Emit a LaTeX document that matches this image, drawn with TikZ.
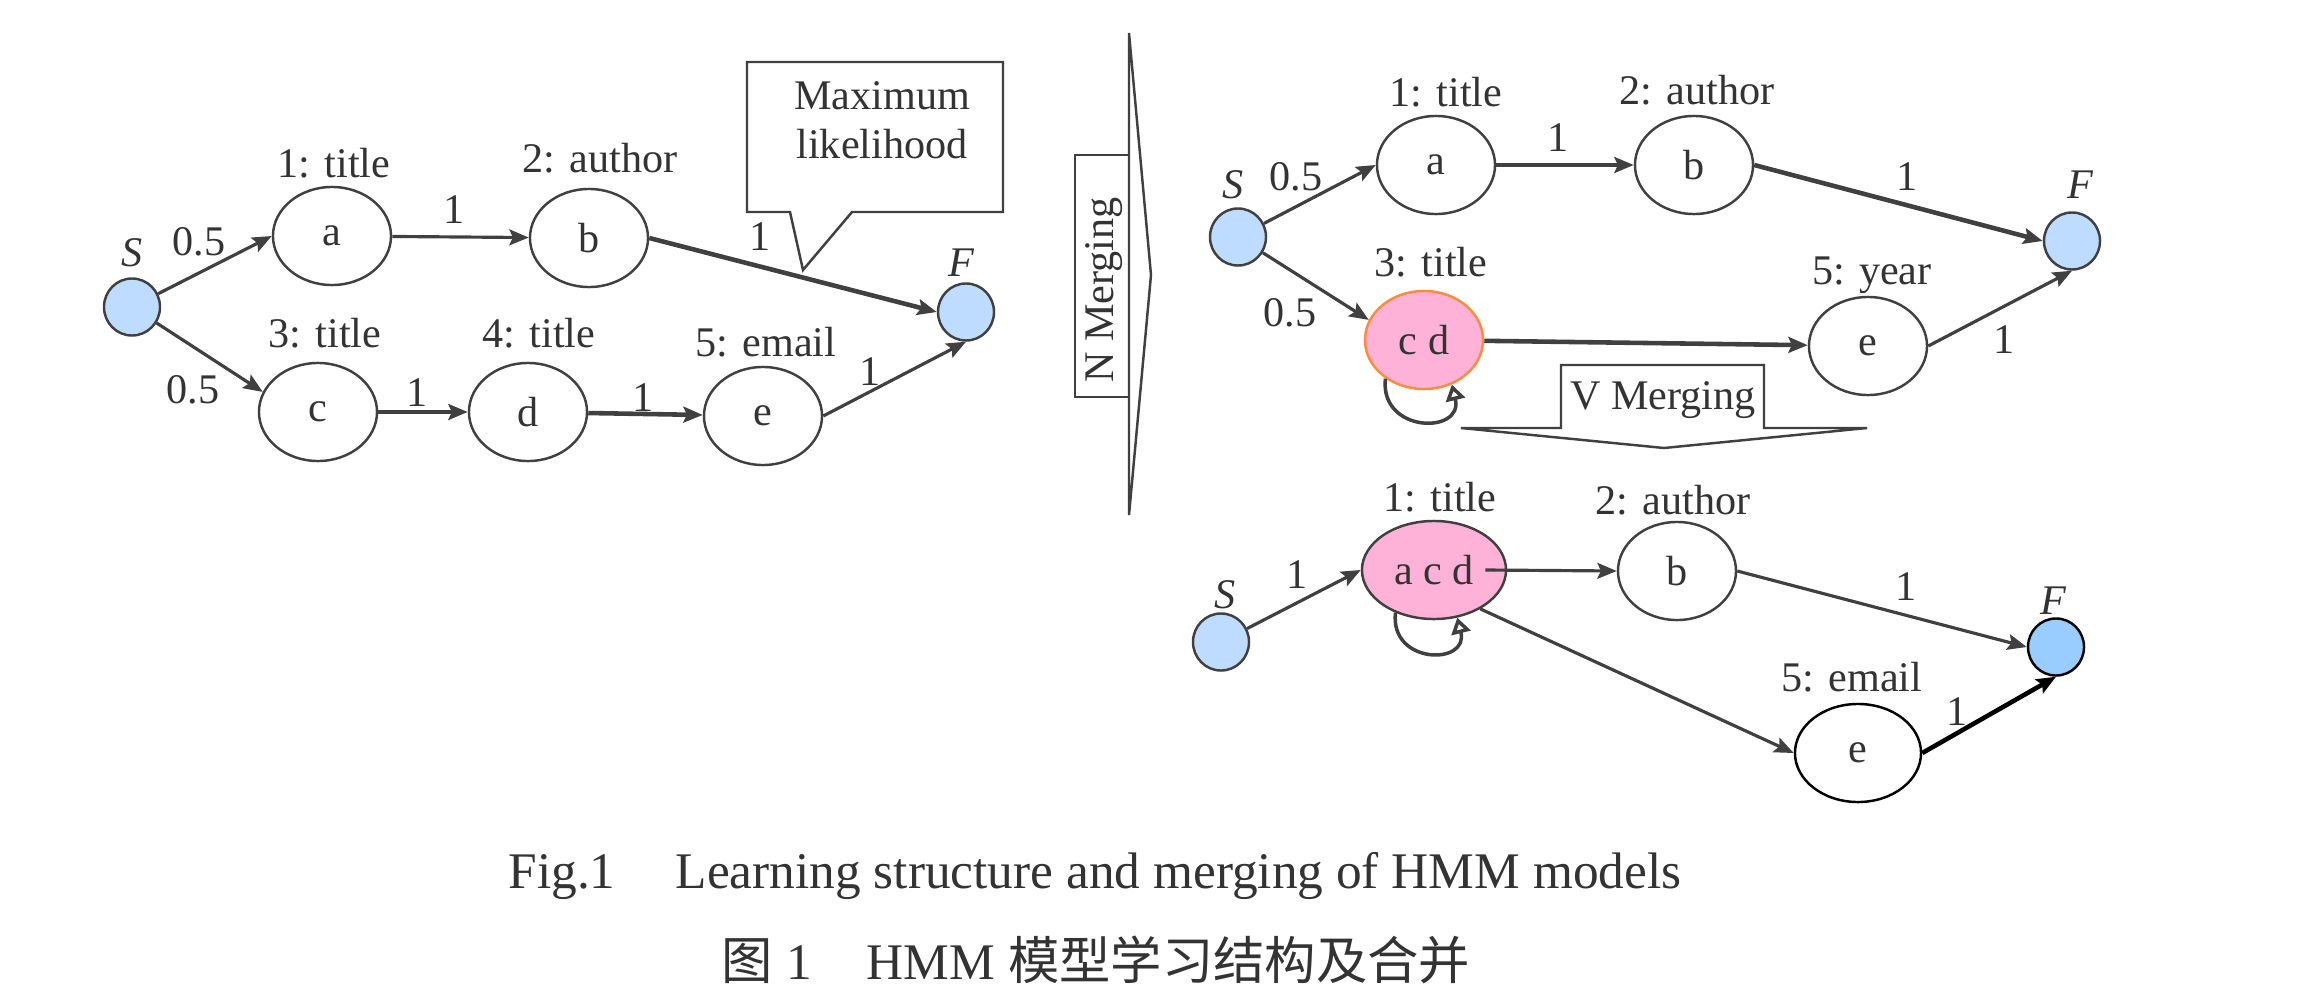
\documentclass[tikz,border=0pt]{standalone}
\usepackage{fontspec}
\setmainfont{Liberation Serif}
\newfontfamily\cjk{Noto Sans CJK SC}
\usetikzlibrary{arrows.meta, shapes.geometric, positioning}
\definecolor{linegray}{RGB}{64,64,64}
\definecolor{startblue}{RGB}{190,220,255}
\definecolor{endblue}{RGB}{153,204,255}
\definecolor{mergepink}{RGB}{255,178,216}
\definecolor{mergeorange}{RGB}{255,140,60}

\begin{document}
\begin{tikzpicture}[x=0.01cm, y=-0.01cm, font=\fontsize{12}{14}\selectfont, text=black!80,
    state/.style={ellipse, draw=linegray, line width=0.7pt, minimum width=1.18cm, minimum height=0.98cm, inner sep=0pt},
    term/.style={ellipse, draw=linegray, line width=0.7pt, fill=startblue, minimum width=0.56cm, minimum height=0.57cm, inner sep=0pt},
    trans/.style={draw=linegray, line width=0.9pt, -{Stealth[length=5.5pt,width=4.5pt,inset=1pt]}},
    heavy/.style={line width=1.3pt},
    selfloop/.style={draw=linegray, line width=1pt, -{Triangle[open,length=4.5pt,width=5.5pt,fill=white]}},
    shapeline/.style={draw=linegray, line width=0.7pt}]
  \useasboundingbox (0,0) rectangle (2305,1000);

  % left: learned model
  \node[term] (S1) at (132,307) {};
  \node[term] (F1) at (966,312) {};
  \node[state] (a1) at (332,236) {a};
  \node[state] (b1) at (589,238) {b};
  \node[state] (c1) at (318,412) {c};
  \node[state] (d1) at (528,412) {d};
  \node[state] (e1) at (763,416) {e};
  \node (S1t) at (132,253) {\textit{S}};
  \node (F1t) at (962,263) {\textit{F}};
  \node (a1t) at (334,163) {1: title};
  \node (b1t) at (600,158) {2: author};
  \node (c1t) at (325,333) {3: title};
  \node (d1t) at (539,333) {4: title};
  \node (e1t) at (766,342) {5: email};
  \node (p1) at (199,242) {0.5};
  \node (p2) at (193,390) {0.5};
  \node (p3) at (454,210) {1};
  \node (p4) at (760,237) {1};
  \node (p5) at (417,393) {1};
  \node (p6) at (643,398) {1};
  \node (p7) at (870,372) {1};
  \draw[trans] (S1) -- (a1.west);
  \draw[trans] (S1) -- (c1.160);
  \draw[trans] (a1) -- (b1);
  \draw[trans, heavy] (b1.east) -- (F1.west);
  \draw[trans, heavy] (c1) -- (d1);
  \draw[trans, heavy] (d1) -- (e1);
  \draw[trans] (e1.east) -- (F1.south);

  % callout
  \draw[shapeline, fill=white] (747,62) -- (1003,62) -- (1003,212) -- (852,212) -- (803,270) -- (790,212) -- (747,212) -- cycle;
  \node[align=center] (mlh) at (882,120) {Maximum\\likelihood};

  % N merging arrow
  \draw[shapeline] (1075,155) rectangle (1129,397);
  \draw[shapeline] (1129,33) -- (1151,275) -- (1129,515) -- cycle;
  \node[rotate=90] (nm) at (1104,290) {N Merging};

  % right top: after N merging
  \node[term] (S2) at (1238,237) {};
  \node[term] (F2) at (2072,241) {};
  \node[state] (a2) at (1436,165) {a};
  \node[state] (b2) at (1694,165) {b};
  \node[state, fill=mergepink, draw=mergeorange] (cd2) at (1424,340) {c d};
  \node[state] (e2) at (1868,346) {e};
  \node (S2t) at (1233,185) {\textit{S}};
  \node (F2t) at (2081,185) {\textit{F}};
  \node (a2t) at (1446,92) {1: title};
  \node (b2t) at (1697,90) {2: author};
  \node (cd2t) at (1431,262) {3: title};
  \node (e2t) at (1872,275) {5: year};
  \node (q1) at (1296,177) {0.5};
  \node (q2) at (1290,313) {0.5};
  \node (q3) at (1558,138) {1};
  \node (q4) at (1907,177) {1};
  \node (q5) at (2004,340) {1};
  \draw[trans] (S2) -- (a2.west);
  \draw[trans] (S2) -- (cd2.160);
  \draw[trans, heavy] (a2) -- (b2);
  \draw[trans, heavy] (b2.east) -- (F2.west);
  \draw[trans, heavy] (cd2) -- (e2);
  \draw[trans] (e2.east) -- (F2.south);
  \draw[selfloop] (cd2.-135) .. controls +(-6,55) and +(12,50) .. (cd2.-58);

  % V merging arrow
  \draw[shapeline] (1561,365) -- (1764,365) -- (1764,428) -- (1867,428) -- (1664,448) -- (1461,428) -- (1561,428) -- cycle;
  \node (vm) at (1663,400) {V Merging};

  % right bottom: after V merging
  \node[term] (S3) at (1221,642) {};
  \node[term, fill=endblue, draw=black] (F3) at (2056,647) {};
  \node[state, fill=mergepink, minimum width=1.44cm] (acd3) at (1434,570) {a c d};
  \node[state] (b3) at (1677,571) {b};
  \node[state, draw=black, minimum width=1.26cm] (e3) at (1858,753) {e};
  \node (S3t) at (1225,595) {\textit{S}};
  \node (F3t) at (2054,601) {\textit{F}};
  \node (acd3t) at (1440,497) {1: title};
  \node (b3t) at (1673,500) {2: author};
  \node (e3t) at (1852,677) {5: email};
  \node (r1) at (1297,575) {1};
  \node (r2) at (1906,587) {1};
  \node (r3) at (1957,712) {1};
  \draw[trans] (S3) -- (acd3.west);
  \draw[trans] ([xshift=-0.22cm]acd3.east) -- (b3.west);
  \draw[trans] (acd3.-40) -- (e3.west);
  \draw[trans] (b3.east) -- (F3.west);
  \draw[trans, heavy, draw=black] (e3.east) -- (F3.south);
  \draw[selfloop] (acd3.-132) .. controls +(-6,52) and +(12,48) .. (acd3.-64);

  % caption
  \node (cap1) at (1095,876) {\fontsize{14.6}{17}\selectfont Fig.1\hspace{0.6cm}Learning structure and merging of HMM models};
  \node (cap2) at (1096,960) {\fontsize{14.6}{17}\selectfont {\cjk 图}\ 1\hspace{0.55cm}HMM {\cjk 模型学习结构及合并}};
\end{tikzpicture}
\end{document}
